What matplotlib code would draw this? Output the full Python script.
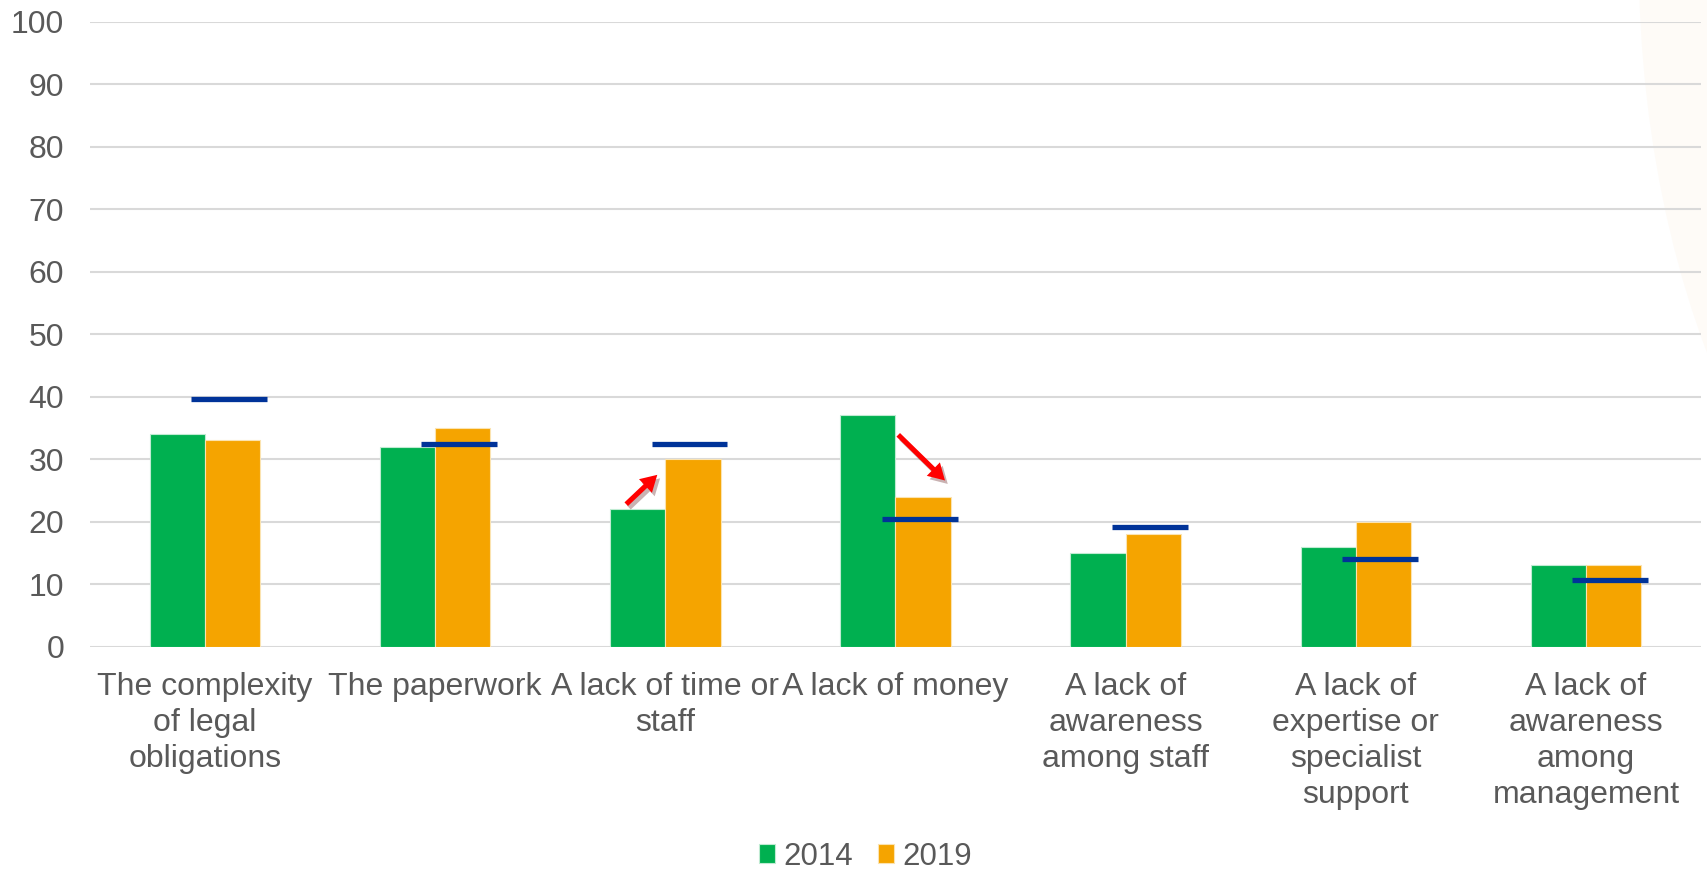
import numpy as np
import matplotlib
matplotlib.use("Agg")
import matplotlib.pyplot as plt
import matplotlib.patheffects as pe
from matplotlib.patches import Ellipse

# -----------------------------
# Data
# -----------------------------
categories = [
    "The complexity\nof legal\nobligations",
    "The paperwork",
    "A lack of time or\nstaff",
    "A lack of money",
    "A lack of\nawareness\namong staff",
    "A lack of\nexpertise or\nspecialist\nsupport",
    "A lack of\nawareness\namong\nmanagement",
]
values_2014 = [34, 32, 22, 37, 15, 16, 13]
values_2019 = [33, 35, 30, 24, 18, 20, 13]
eu_average = [39.7, 32.4, 32.5, 20.4, 19.2, 14.1, 10.7]
series_labels = ["2014", "2019"]
y_ticks = list(range(0, 101, 10))

GREEN = "#00B050"
ORANGE = "#F5A400"
BLUE = "#003399"
TEXT = "#595959"
GRID = "#D9D9D9"

plt.rcParams["font.family"] = ["Liberation Sans", "DejaVu Sans"]

fig = plt.figure(figsize=(17.07, 8.69), dpi=100)

# faint beige shape at the right edge, behind everything
fig.add_artist(Ellipse((1.2, 1.05), 0.48, 1.65, transform=fig.transFigure,
                       facecolor="#FEFBF7", edgecolor="none", zorder=-1))

ax = fig.add_axes([0.0527, 0.2558, 0.9438, 0.7192])
ax.patch.set_alpha(0)

x = np.arange(len(categories))
w = 0.24
ax.bar(x - w / 2, values_2014, w, color=GREEN, edgecolor="#BFEBD2", linewidth=0.8,
       label=series_labels[0], zorder=3)
ax.bar(x + w / 2, values_2019, w, color=ORANGE, edgecolor="#FBE3B0", linewidth=0.8,
       label=series_labels[1], zorder=3)

# EU average markers
ax.hlines(eu_average, x + 0.105 - 0.165, x + 0.105 + 0.165, colors=BLUE,
          linewidth=3.8, zorder=4)

# red trend arrows
arrow_props = dict(arrowstyle="simple,head_width=0.52,head_length=0.45,tail_width=0.14",
                   color="#FF0000", lw=0, shrinkA=0, shrinkB=0, mutation_scale=26)
a1 = ax.annotate("", xy=(2 - 0.035, values_2019[2] - 2.5),
                 xytext=(2 - 0.17, values_2014[2] + 0.8), arrowprops=arrow_props, zorder=5)
a2 = ax.annotate("", xy=(3 + 0.215, values_2019[3] + 2.6),
                 xytext=(3 + 0.012, values_2014[3] - 3.1), arrowprops=arrow_props, zorder=5)
for a in (a1, a2):
    a.arrow_patch.set_path_effects([pe.SimplePatchShadow(offset=(2, -2.5), alpha=0.3), pe.Normal()])

ax.set_xlim(-0.5, len(categories) - 0.5)
ax.set_ylim(0, 100)
ax.set_yticks(y_ticks)
ax.set_xticks(x)
ax.set_xticklabels(categories, linespacing=1.27)
ax.tick_params(axis="y", length=0, pad=18.5, labelsize=23, labelcolor=TEXT)
ax.tick_params(axis="x", length=0, pad=18, labelsize=23, labelcolor=TEXT)
ax.yaxis.grid(True, color=GRID, linewidth=1.5, zorder=0)
ax.set_axisbelow(True)
for s in ax.spines.values():
    s.set_visible(False)

ax.legend(loc="lower center", bbox_to_anchor=(0.507, -0.021), bbox_transform=fig.transFigure,
          ncol=2, frameon=False, fontsize=22.5, handlelength=0.52, handleheight=0.52,
          handletextpad=0.27, columnspacing=0.8, labelcolor=TEXT, borderpad=0)

fig.savefig("out.png", dpi=100)
